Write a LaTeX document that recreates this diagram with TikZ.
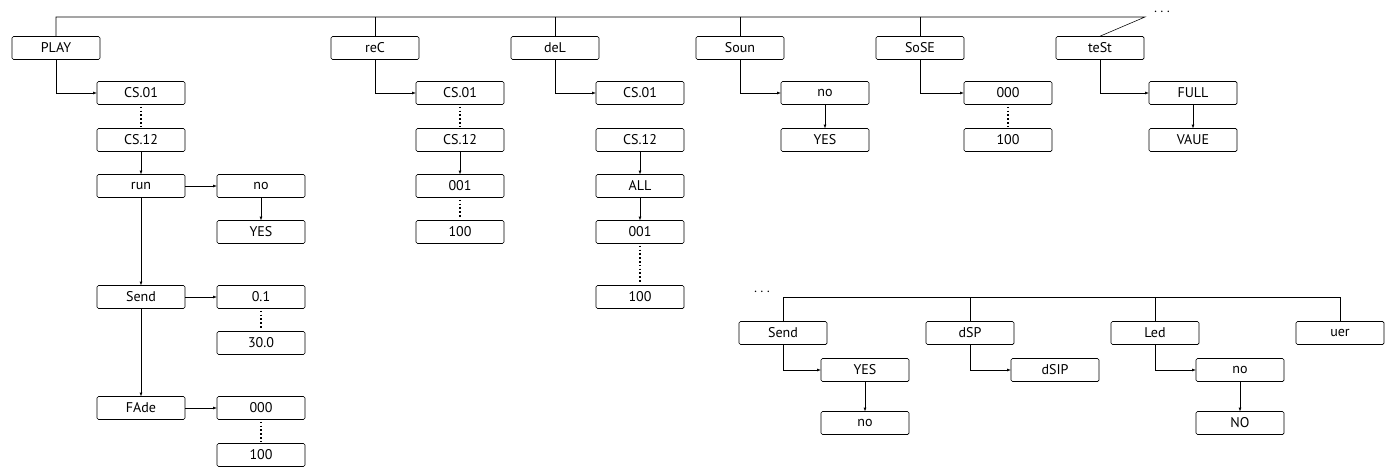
\documentclass[tikz,border=0pt]{standalone}
\usepackage{fontspec}
\setmainfont{PT Sans}
\begin{document}
\begin{tikzpicture}[x=0.05cm,y=-0.05cm,
    box/.style={draw, thick, rounded corners=2pt, minimum width=4.4cm, minimum height=1.15cm, inner sep=0pt, font=\fontsize{20}{22}\selectfont},
    link/.style={thick, -latex},
    vdots/.style={font=\fontsize{20}{22}\selectfont\bfseries}]

    \useasboundingbox (0,0) rectangle (1389,473);

    % Top menu bar
    \node[box] (play) at (56,48) {PLAY};
    \node[box] (rec) at (375,48) {reC};
    \node[box] (del) at (555,48) {deL};
    \node[box] (soun) at (740,48) {Soun};
    \node[box] (sose) at (920,48) {SoSE};
    \node[box] (test) at (1100,48) {teSt};
    \coordinate (barR) at (1145,17);
    \draw[thick] (play.north) |- (barR) -- (test.north);
    \foreach \n in {rec,del,soun,sose} \draw[thick] (\n.north) -- (\n.north |- barR);
    \node[vdots] (more) at (1162,12) {$\cdots$};

    % PLAY
    \node[box] (pc1) at (141,93) {CS.01};
    \node[box] (pc12) at (141,140) {CS.12};
    \node[box] (prun) at (141,186) {run};
    \node[box] (pno) at (261,186) {no};
    \node[box] (pyes) at (261,232) {YES};
    \node[box] (psend) at (141,297) {Send};
    \node[box] (p01) at (261,297) {0.1};
    \node[box] (p30) at (261,343) {30.0};
    \node[box] (pfade) at (141,408) {FAde};
    \node[box] (p000) at (261,408) {000};
    \node[box] (p100) at (261,455) {100};
    \draw[link] (play.south) |- (pc1.west);
    \draw[link] (pc12) -- (prun);
    \draw[link] (prun) -- (pno);
    \draw[link] (pno) -- (pyes);
    \draw[link] (prun) -- (psend);
    \draw[link] (psend) -- (p01);
    \draw[link] (psend) -- (pfade);
    \draw[link] (pfade) -- (p000);

    % reC
    \node[box] (rc1) at (460,93) {CS.01};
    \node[box] (rc12) at (460,140) {CS.12};
    \node[box] (r001) at (460,186) {001};
    \node[box] (r100) at (460,232) {100};
    \draw[link] (rec.south) |- (rc1.west);
    \draw[link] (rc12) -- (r001);

    % deL
    \node[box] (dc1) at (640,93) {CS.01};
    \node[box] (dc12) at (640,140) {CS.12};
    \node[box] (dall) at (640,186) {ALL};
    \node[box] (d001) at (640,232) {001};
    \node[box] (d100) at (640,297) {100};
    \draw[link] (del.south) |- (dc1.west);
    \draw[link] (dc12) -- (dall);
    \draw[link] (dall) -- (d001);

    % Soun, SoSE, teSt
    \node[box] (sno) at (825,93) {no};
    \node[box] (syes) at (825,140) {YES};
    \draw[link] (soun.south) |- (sno.west);
    \draw[link] (sno) -- (syes);
    \node[box] (s000) at (1008,93) {000};
    \node[box] (s100) at (1008,140) {100};
    \draw[link] (sose.south) |- (s000.west);
    \node[box] (tfull) at (1193,93) {FULL};
    \node[box] (tvaue) at (1193,140) {VAUE};
    \draw[link] (test.south) |- (tfull.west);
    \draw[link] (tfull) -- (tvaue);

    % dotted gaps
    \foreach \a/\b in {pc1/pc12,p01/p30,p000/p100,rc1/rc12,r001/r100,d001/d100,s000/s100}
        \draw[line width=2.2pt, dash pattern=on 2.2pt off 3.2pt] ([yshift=-3pt]\a.south) -- ([yshift=3pt]\b.north);

    % second menu bar
    \node[box] (send) at (783,333) {Send};
    \node[box] (dsp) at (970,333) {dSP};
    \node[box] (led) at (1155,333) {Led};
    \node[box] (uer) at (1340,333) {uer};
    \coordinate (bar2) at (783,297);
    \draw[thick] (send.north) |- (bar2 -| uer.north) -- (uer.north);
    \foreach \n in {dsp,led} \draw[thick] (\n.north) -- (\n.north |- bar2);
    \node[vdots] (more2) at (762,292) {$\cdots$};
    \node[box] (eyes) at (865,370) {YES};
    \node[box] (eno) at (865,423) {no};
    \draw[link] (send.south) |- (eyes.west);
    \draw[link] (eyes) -- (eno);
    \node[box] (dsip) at (1055,370) {dSIP};
    \draw[link] (dsp.south) |- (dsip.west);
    \node[box] (lno) at (1240,370) {no};
    \node[box] (lNO) at (1240,423) {NO};
    \draw[link] (led.south) |- (lno.west);
    \draw[link] (lno) -- (lNO);

\end{tikzpicture}
\end{document}
